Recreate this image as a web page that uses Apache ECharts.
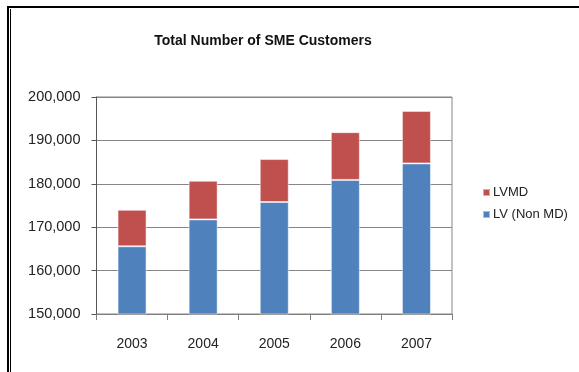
<!DOCTYPE html>
<html>
<head>
<meta charset="utf-8">
<style>
  html, body { margin: 0; padding: 0; background: #fff; }
  #chart { width: 579px; height: 372px; }
</style>
<script src="https://cdn.jsdelivr.net/npm/echarts@6/dist/echarts.min.js"></script>
</head>
<body>
<div id="chart"></div>
<script>
// Customer counts per year, split into the two tariff groups
const years = ['2003', '2004', '2005', '2006', '2007'];
const lvNonMd = [165600, 171800, 175800, 180900, 184700];
const lvmd = [8400, 8900, 9900, 11000, 12100];
const yTicks = { min: 150000, max: 200000, step: 10000 };

const chart = echarts.init(document.getElementById('chart'), null, { renderer: 'canvas' });
const font = 'Liberation Sans, Arial, sans-serif';

chart.setOption({
  animation: false,
  backgroundColor: '#fff',
  title: {
    text: 'Total Number of SME Customers',
    left: 258,
    top: 29,
    textAlign: 'center',
    textStyle: { fontFamily: font, fontSize: 14, fontWeight: 'bold', color: '#111' }
  },
  legend: {
    orient: 'vertical',
    left: 477,
    top: 181,
    itemWidth: 7,
    itemHeight: 7,
    itemGap: 9,
    icon: 'rect',
    data: ['LVMD', 'LV (Non MD)'],
    textStyle: { fontFamily: font, fontSize: 13, color: '#222', padding: [0, 0, 0, -2] }
  },
  grid: {
    left: 96.5, right: 127, top: 97, bottom: 58,
    show: true, borderColor: '#868686', borderWidth: 1
  },
  xAxis: {
    type: 'category',
    data: years,
    boundaryGap: true,
    axisLine: { lineStyle: { color: '#7f7f7f', width: 1 } },
    axisTick: { show: true, length: 6, inside: false, lineStyle: { color: '#7f7f7f' } },
    axisLabel: { fontFamily: font, fontSize: 14, color: '#222', margin: 23 }
  },
  yAxis: {
    type: 'value',
    min: yTicks.min,
    max: yTicks.max,
    interval: yTicks.step,
    axisLine: { show: true, lineStyle: { color: '#555', width: 1 } },
    axisTick: { show: true, length: 5, lineStyle: { color: '#555' } },
    splitLine: { lineStyle: { color: '#868686', width: 1 } },
    axisLabel: {
      fontFamily: font, fontSize: 14.5, color: '#222', margin: 16,
      formatter: v => v.toLocaleString('en-US')
    }
  },
  series: [
    {
      name: 'LV (Non MD)',
      type: 'bar',
      stack: 'total',
      barWidth: 29,
      data: lvNonMd,
      itemStyle: { color: '#4F81BD', borderColor: 'rgba(255,255,255,0.5)', borderWidth: 1 }
    },
    {
      name: 'LVMD',
      type: 'bar',
      stack: 'total',
      barWidth: 29,
      data: lvmd,
      itemStyle: { color: '#C0504D', borderColor: 'rgba(255,255,255,0.5)', borderWidth: 1 }
    }
  ],
  graphic: [
    { type: 'rect', shape: { x: 7, y: 6, width: 572, height: 2 }, style: { fill: '#000' }, silent: true },
    { type: 'rect', shape: { x: 7, y: 6, width: 2, height: 366 }, style: { fill: '#000' }, silent: true },
    { type: 'rect', shape: { x: 10, y: 9, width: 1, height: 363 }, style: { fill: '#000' }, silent: true }
  ]
});
</script>
</body>
</html>
